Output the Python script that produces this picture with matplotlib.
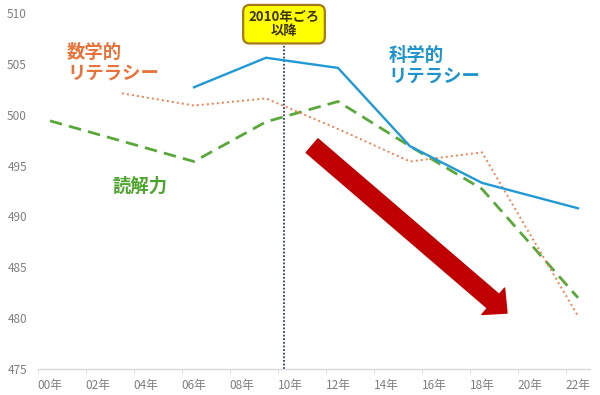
import numpy as np
import matplotlib
matplotlib.use("Agg")
import matplotlib.pyplot as plt

plt.rcParams['font.family'] = ['Noto Sans CJK JP', 'DejaVu Sans']

# data (PISA scores)
tick_years = list(range(0, 23, 2))
tick_labels = [f"{y:02d}年" for y in tick_years]

reading_years = [0, 6, 9, 12, 15, 18, 22]
reading_scores = [499.4, 495.4, 499.3, 501.3, 496.9, 492.7, 482.0]

math_years = [3, 6, 9, 12, 15, 18, 22]
math_scores = [502.1, 500.9, 501.6, 498.6, 495.4, 496.3, 480.2]

science_years = [6, 9, 12, 15, 18, 22]
science_scores = [502.7, 505.6, 504.6, 496.9, 493.3, 490.8]

marker_year = 9.75  # "2010年ごろ以降"

blue = '#1f9ad6'
green = '#5aa83a'
orange = '#f08050'

fig = plt.figure(figsize=(6, 3.95), dpi=100)
ax = fig.add_axes([38 / 600, 1 - 369 / 395, 552 / 600, 356 / 395])

ax.plot(science_years, science_scores, color=blue, lw=1.7, zorder=4)
ax.plot(reading_years, reading_scores, color=green, lw=2.0,
        dashes=(4.5, 2.6), zorder=3)
ax.plot(math_years, math_scores, color=orange, lw=1.4,
        linestyle=(0, (1, 1.6)), zorder=3)

ax.set_xlim(-0.5, 22.5)
ax.set_ylim(475, 510)
ax.set_yticks(np.arange(475, 511, 5))
ax.set_xticks(tick_years)
ax.set_xticklabels(tick_labels)
ax.set_xticks(np.arange(-0.5, 23, 2), minor=True)

for s in ['top', 'right', 'left']:
    ax.spines[s].set_visible(False)
ax.spines['bottom'].set_color('#d9d9d9')
ax.spines['bottom'].set_linewidth(1.0)
ax.tick_params(axis='y', length=0, pad=8, labelsize=8.5, labelcolor='#7f7f7f')
ax.tick_params(axis='x', which='major', length=0, pad=7, labelsize=8.5,
               labelcolor='#7f7f7f')
ax.tick_params(axis='x', which='minor', length=3, color='#d9d9d9')

# vertical marker + label box
ax.axvline(marker_year, color='#2e3f6e', lw=1.3, linestyle=(0, (1, 1)), zorder=2)
ax.text(marker_year, 508.9, "2010年ごろ\n以降", ha='center', va='center',
        fontsize=9.5, fontweight='bold', color='#3d3300', linespacing=1.0,
        clip_on=False, zorder=6,
        bbox=dict(boxstyle='round,pad=0.4,rounding_size=0.5',
                  fc='#ffff00', ec='#a5781c', lw=1.6))

# series labels
ax.text(0.71, 507.1, "数学的\nリテラシー", ha='left', va='top', fontsize=13.2,
        fontweight='bold', color='#e8733a', linespacing=1.15)
ax.text(14.1, 506.8, "科学的\nリテラシー", ha='left', va='top', fontsize=13.2,
        fontweight='bold', color='#1f94cc', linespacing=1.15)
ax.text(2.6, 493.0, "読解力", ha='left', va='center', fontsize=13.2,
        fontweight='bold', color='#4ea52e')

# big downward arrow
ax.annotate("", xy=(19.04, 480.5), xytext=(10.92, 496.95),
            arrowprops=dict(arrowstyle="simple,head_length=1.3,head_width=2.5,tail_width=1.3",
                            mutation_scale=10, fc='#c00000', ec='#c00000',
                            shrinkA=0, shrinkB=0), zorder=5)

fig.savefig("out.png", dpi=100)
